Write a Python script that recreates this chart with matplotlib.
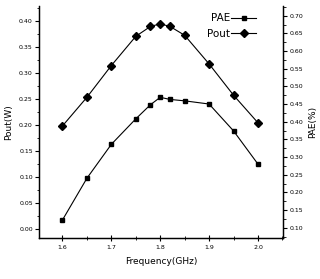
import matplotlib
matplotlib.use("Agg")
import matplotlib.pyplot as plt
from matplotlib.ticker import MultipleLocator

# Données
freq = [1.60, 1.65, 1.70, 1.75, 1.78, 1.80, 1.82, 1.85, 1.90, 1.95, 2.00]
pout = [0.198, 0.253, 0.314, 0.370, 0.389, 0.394, 0.389, 0.372, 0.317, 0.257, 0.204]
pae = [0.122, 0.240, 0.336, 0.408, 0.448, 0.469, 0.463, 0.459, 0.450, 0.374, 0.280]
xtick_pos = [1.6, 1.7, 1.8, 1.9, 2.0]
xtick_labels = ["1.6", "1.7", "1.8", "1.9", "2.0"]

plt.rcParams['font.family'] = ['DejaVu Sans']

fig = plt.figure(figsize=(3.2, 2.79), dpi=100)
ax = fig.add_axes([0.122, 0.147, 0.762, 0.831])
ax2 = ax.twinx()

l1, = ax2.plot(freq, pae, color='black', lw=0.8, marker='s', ms=3.2, label='PAE')
l2, = ax.plot(freq, pout, color='black', lw=0.8, marker='D', ms=4.0, label='Pout')

ax.set_xlim(1.552, 2.051)
ax.set_ylim(-0.0172, 0.428)
ax2.set_ylim(0.0709, 0.727)

ax.set_xticks(xtick_pos)
ax.set_xticklabels(xtick_labels)
ax.xaxis.set_minor_locator(MultipleLocator(0.05))
ax.yaxis.set_minor_locator(MultipleLocator(0.025))
ax2.yaxis.set_minor_locator(MultipleLocator(0.025))
ax.set_yticks([i * 0.05 for i in range(9)])
ax2.set_yticks([0.10 + i * 0.05 for i in range(13)])
ax.yaxis.set_major_formatter(plt.FormatStrFormatter('%.2f'))
ax2.yaxis.set_major_formatter(plt.FormatStrFormatter('%.2f'))

for a in (ax, ax2):
    a.spines['top'].set_visible(False)
    for s in a.spines.values():
        s.set_linewidth(0.9)
    a.tick_params(labelsize=4.5, width=0.8, length=3, pad=1.5)
    a.tick_params(which='minor', width=0.6, length=1.8)
ax.tick_params(axis='x', direction='inout', length=4, pad=3)
ax.tick_params(axis='x', which='minor', direction='inout', length=3)

ax.set_xlabel('Frequency(GHz)', fontsize=6.5, labelpad=5)
ax.set_ylabel('Pout(W)', fontsize=6.5, labelpad=4)
ax2.set_ylabel('PAE(%)', fontsize=6.5, labelpad=4)

leg = ax.legend([l1, l2], ['PAE', 'Pout'], loc='upper right', bbox_to_anchor=(0.92, 1.0),
                frameon=False, markerfirst=False, fontsize=7.5, handlelength=2.4,
                handletextpad=0.1, labelspacing=0.5, borderaxespad=0.3)

fig.savefig('out.png', dpi=100)
